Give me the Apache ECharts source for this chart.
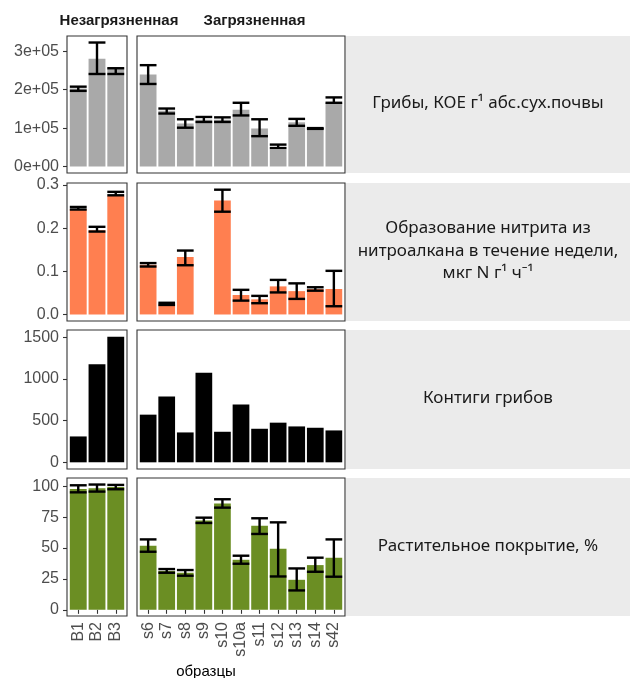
<!DOCTYPE html>
<html>
<head>
<meta charset="utf-8">
<script src="https://cdn.jsdelivr.net/npm/echarts@6/dist/echarts.min.js"></script>
<style>html,body{margin:0;padding:0;background:#fff}#c{width:630px;height:678px}</style>
</head>
<body>
<div id="c"></div>
<script>
// ---------- DATA ----------
const catsClean = ['B1', 'B2', 'B3'];
const catsPolluted = ['s6', 's7', 's8', 's9', 's10', 's10a', 's11', 's12', 's13', 's14', 's42'];

const groupTitles = ['Незагрязненная', 'Загрязненная'];
const panelTitles = [
  'Грибы, КОЕ г¹ абс.сух.почвы',
  'Образование нитрита из\nнитроалкана в течение недели,\nмкг N г¹ ч⁻¹',
  'Контиги грибов',
  'Растительное покрытие, %'
];
const xTitle = 'образцы';

// Panel 1: fungi CFU
const fungiClean = [203000, 281000, 258000];
const fungiCleanLow = [197000, 241000, 241000];
const fungiCleanHigh = [208000, 323000, 256000];
const fungiPolluted = [240000, 145000, 112000, 122000, 122000, 148000, 99000, 44000, 115000, 98500, 166000];
const fungiPollutedLow = [215000, 138000, 101000, 116000, 116000, 133000, 79000, 48000, 106000, 98000, 166000];
const fungiPollutedHigh = [264000, 151000, 123000, 129000, 128000, 166000, 123000, 57000, 124000, 100000, 180000];

// Panel 2: nitrite formation
const nitriteClean = [0.244, 0.195, 0.275];
const nitriteCleanLow = [0.243, 0.192, 0.276];
const nitriteCleanHigh = [0.249, 0.203, 0.284];
const nitritePolluted = [0.115, 0.024, 0.133, null, 0.264, 0.045, 0.035, 0.065, 0.054, 0.059, 0.059];
const nitritePollutedLow = [0.111, 0.022, 0.114, null, 0.238, 0.032, 0.026, 0.051, 0.036, 0.055, 0.019];
const nitritePollutedHigh = [0.119, 0.027, 0.148, null, 0.289, 0.057, 0.043, 0.080, 0.072, 0.063, 0.101];

// Panel 3: fungal contigs
const contigsClean = [310, 1175, 1505];
const contigsPolluted = [571, 788, 358, 1074, 366, 692, 402, 475, 430, 414, 382];

// Panel 4: plant cover
const coverClean = [97.8, 98.4, 99.5];
const coverCleanLow = [95.1, 95.7, 97.6];
const coverCleanHigh = [100.8, 101.4, 101.1];
const coverPolluted = [51.9, 31.5, 30.0, 72.4, 86.0, 40.5, 68.1, 49.5, 24.3, 36.2, 42.2];
const coverPollutedLow = [47.0, 30.0, 27.6, 70.3, 82.7, 37.3, 61.4, 27.0, 15.7, 30.8, 26.8];
const coverPollutedHigh = [57.0, 33.0, 32.2, 74.6, 89.5, 43.8, 74.1, 70.8, 33.5, 42.2, 57.0];

// Y tick values
const ticks1 = [0, 100000, 200000, 300000];
const ticks2 = [0, 0.1, 0.2, 0.3];
const ticks3 = [0, 500, 1000, 1500];
const ticks4 = [0, 25, 50, 75, 100];

// ---------- LAYOUT / STYLE ----------
const rows = [
  {top: 36, bottom: 173, color: '#A9A9A9', ymin: -17000, ymax: 340000, ticks: ticks1,
   fmt: v => v === 0 ? '0e+00' : (v / 100000) + 'e+05',
   clean: [fungiClean, fungiCleanLow, fungiCleanHigh], pol: [fungiPolluted, fungiPollutedLow, fungiPollutedHigh]},
  {top: 183, bottom: 321, color: '#FF7F50', ymin: -0.0152, ymax: 0.3045, ticks: ticks2,
   fmt: v => v.toFixed(1),
   clean: [nitriteClean, nitriteCleanLow, nitriteCleanHigh], pol: [nitritePolluted, nitritePollutedLow, nitritePollutedHigh]},
  {top: 330, bottom: 469, color: '#000000', ymin: -80, ymax: 1585, ticks: ticks3,
   fmt: v => String(v),
   clean: [contigsClean, null, null], pol: [contigsPolluted, null, null]},
  {top: 478, bottom: 616, color: '#6B8E23', ymin: -5, ymax: 106.7, ticks: ticks4,
   fmt: v => String(v),
   clean: [coverClean, coverCleanLow, coverCleanHigh], pol: [coverPolluted, coverPollutedLow, coverPollutedHigh]}
];
const cols = [
  {left: 67, width: 60, cats: catsClean, key: 'clean'},
  {left: 137, width: 208, cats: catsPolluted, key: 'pol'}
];
const stripLeft = 346;

const grids = [], xAxes = [], yAxes = [], series = [];

function errRender(params, api) {
  const x = api.value(0), lo = api.value(1), hi = api.value(2);
  const pLo = api.coord([x, lo]);
  const pHi = api.coord([x, hi]);
  const half = api.size([0.9, 0])[0] / 2;
  const st = {stroke: '#000', lineWidth: 2.4};
  return {type: 'group', children: [
    {type: 'line', shape: {x1: pLo[0], y1: pLo[1], x2: pHi[0], y2: pHi[1]}, style: st},
    {type: 'line', shape: {x1: pLo[0] - half, y1: pLo[1], x2: pLo[0] + half, y2: pLo[1]}, style: st},
    {type: 'line', shape: {x1: pHi[0] - half, y1: pHi[1], x2: pHi[0] + half, y2: pHi[1]}, style: st}
  ]};
}

rows.forEach((r, ri) => {
  cols.forEach((c, ci) => {
    const idx = grids.length;
    const n = c.cats.length;
    grids.push({left: c.left, top: r.top, width: c.width, height: r.bottom - r.top,
      show: true, borderColor: '#333333', borderWidth: 1.1, backgroundColor: '#fff', containLabel: false});
    const isBottom = ri === rows.length - 1;
    const xTicks = c.cats.map((_, i) => i + 1);
    xAxes.push({type: 'value', gridIndex: idx, min: 0.4, max: n + 0.6,
      splitLine: {show: false}, axisLine: {show: false},
      axisTick: {show: isBottom, customValues: xTicks, length: 4, lineStyle: {color: '#333333', width: 1.1}},
      axisLabel: {show: isBottom, customValues: xTicks, rotate: 90, margin: 6,
        formatter: v => c.cats[Math.round(v) - 1] || '', color: '#4D4D4D',
        fontFamily: 'Liberation Sans', fontSize: 16}});
    const isLeft = ci === 0;
    yAxes.push({type: 'value', gridIndex: idx, min: r.ymin, max: r.ymax,
      splitLine: {show: false}, axisLine: {show: false},
      axisTick: {show: isLeft, customValues: r.ticks, length: 4, lineStyle: {color: '#333333', width: 1.1}},
      axisLabel: {show: isLeft, customValues: r.ticks, formatter: r.fmt, margin: 8, color: '#4D4D4D',
        fontFamily: 'Liberation Sans', fontSize: 16}});
    const d = r[c.key];
    const unit = c.width / (n + 0.2);
    series.push({type: 'bar', xAxisIndex: idx, yAxisIndex: idx, barWidth: unit * 0.9,
      itemStyle: {color: r.color}, silent: true, animation: false,
      data: d[0].map((v, i) => [i + 1, v === null ? '-' : v])});
    if (d[1]) {
      const errData = [];
      d[0].forEach((v, i) => { if (d[1][i] !== null) errData.push([i + 1, d[1][i], d[2][i]]); });
      series.push({type: 'custom', xAxisIndex: idx, yAxisIndex: idx, renderItem: errRender,
        data: errData, silent: true, animation: false, z: 5});
    }
  });
});

const graphics = [];
rows.forEach((r, ri) => {
  graphics.push({type: 'rect', shape: {x: stripLeft, y: r.top, width: 630 - stripLeft, height: r.bottom - r.top},
    style: {fill: '#EBEBEB'}, silent: true});
  graphics.push({type: 'text', x: (stripLeft + 630) / 2, y: (r.top + r.bottom) / 2 - 1,
    style: {text: panelTitles[ri], textAlign: 'center', textVerticalAlign: 'middle', fill: '#1A1A1A',
      font: '17px "Noto Sans"', lineHeight: 22.5}, silent: true});
});
graphics.push({type: 'text', x: 119, y: 21, style: {text: groupTitles[0], textAlign: 'center', textVerticalAlign: 'middle',
  fill: '#1A1A1A', font: 'bold 15px "Liberation Sans"'}, silent: true});
graphics.push({type: 'text', x: 254.5, y: 21, style: {text: groupTitles[1], textAlign: 'center', textVerticalAlign: 'middle',
  fill: '#1A1A1A', font: 'bold 15px "Liberation Sans"'}, silent: true});
graphics.push({type: 'text', x: 206, y: 672, style: {text: xTitle, textAlign: 'center', textVerticalAlign: 'middle',
  fill: '#000', font: '15px "Liberation Sans"'}, silent: true});

const chart = echarts.init(document.getElementById('c'), null, {renderer: 'canvas'});
chart.setOption({
  backgroundColor: '#fff',
  animation: false,
  grid: grids, xAxis: xAxes, yAxis: yAxes, series: series,
  graphic: graphics
});
</script>
</body>
</html>
